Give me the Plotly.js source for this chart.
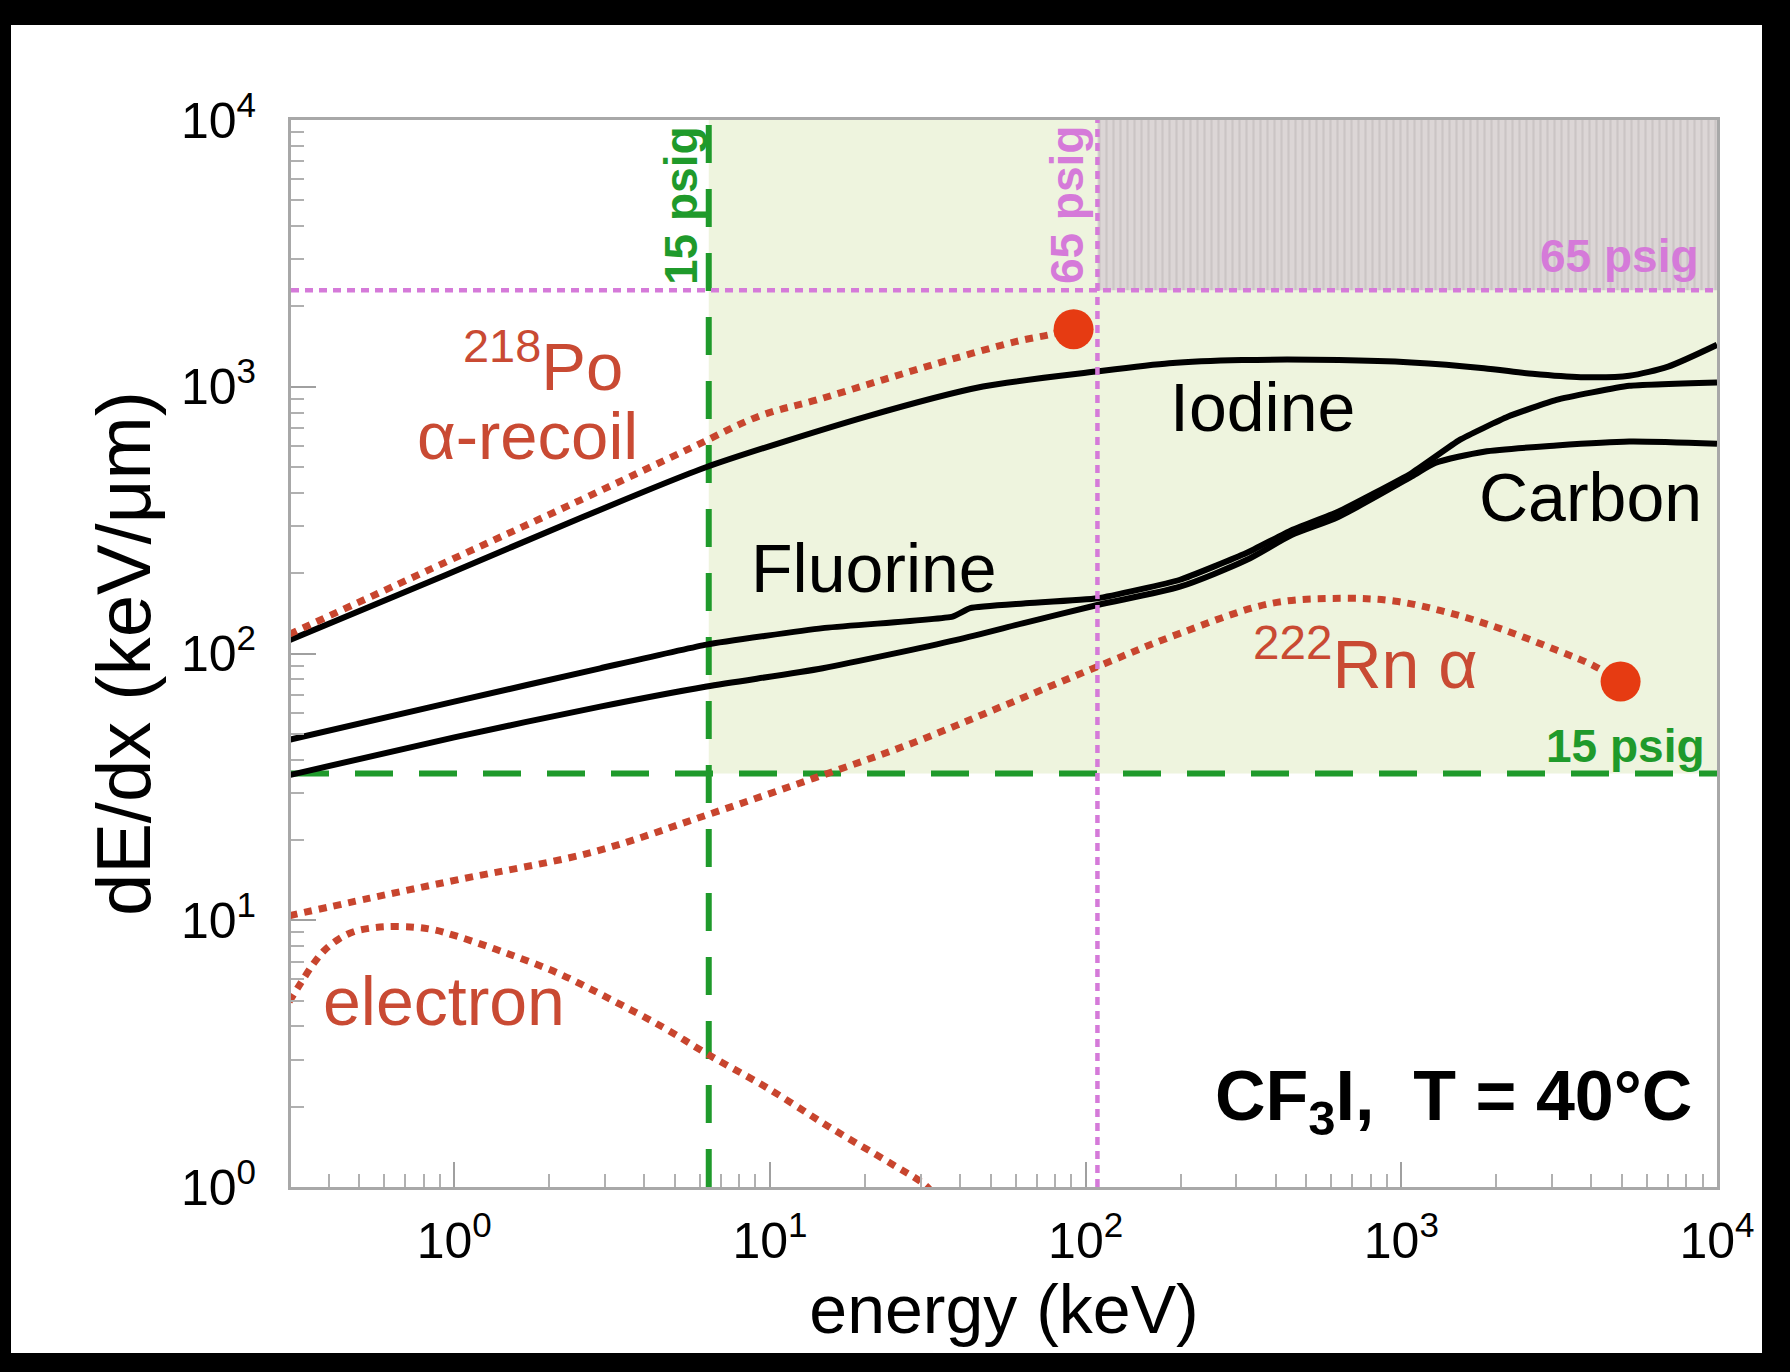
<!DOCTYPE html>
<html><head><meta charset="utf-8">
<script src="https://cdn.plot.ly/plotly-3.0.1.min.js"></script>
<style>
html,body{margin:0;padding:0;background:#000;width:1790px;height:1372px;overflow:hidden}
#chart{position:absolute;left:11px;top:25px;width:1751px;height:1328px;background:#fff}
</style></head><body><div id="chart"></div>
<script>
// ---- data (energy in keV, dE/dx in keV/um) ----
const iodineE    = [0.3, 0.94, 2.51, 6.3, 20.2, 47.3, 108, 184, 313, 634, 1076, 1828, 2602, 3703, 5273, 7000, 10000];
const iodineDEDX = [112, 197, 322, 500, 773, 1002, 1140, 1225, 1259, 1259, 1233, 1174, 1118, 1086, 1099, 1190, 1436];

const fluorineE    = [0.3, 1.0, 2.9, 6.3, 14.7, 37.9, 43.1, 63.6, 109, 199, 323, 449, 631, 1076, 1531, 2180, 3100, 5273, 10000];
const fluorineDEDX = [47.5, 66, 88, 108, 124.5, 137.5, 148, 154, 161, 189, 238, 290, 340, 474, 632, 773, 893, 1008, 1038];

const carbonE    = [0.3, 1.0, 2.9, 6.3, 14.7, 39, 63.6, 109, 199, 323, 449, 631, 1076, 1280, 1828, 3100, 5273, 10000];
const carbonDEDX = [35, 48.5, 63.2, 75.2, 88.1, 112.5, 130, 152, 178, 224, 278, 325, 460, 518, 571, 602, 623, 611];

const poE    = [0.3, 0.94, 2.51, 5.66, 9.3, 14.1, 22.8, 37.1, 60.4, 76.9, 91.6];
const poDEDX = [118, 220, 376, 592, 778, 893, 1062, 1262, 1479, 1567, 1644];

const rnE    = [0.3, 0.54, 1.03, 2.74, 6.31, 13.8, 28.2, 54.1, 109, 199, 386, 650, 960, 1419, 2097, 3100, 4020, 4950];
const rnDEDX = [10.4, 12.1, 14.2, 18.0, 24.8, 34.1, 46.1, 63.2, 89.3, 119, 154, 161, 157, 142, 123, 103, 90.6, 78.5];

const electronE    = [0.30, 0.326, 0.359, 0.389, 0.43, 0.48, 0.54, 0.614, 0.747, 0.865, 1.03, 1.43, 2.12, 3.13, 4.62, 6.39, 9.76, 15.4, 24.3, 30.9, 34];
const electronDEDX = [4.95, 5.8, 6.9, 7.74, 8.49, 9.06, 9.33, 9.46, 9.42, 9.2, 8.68, 7.6, 6.35, 5.05, 3.95, 3.13, 2.36, 1.68, 1.22, 1.02, 0.9];

// thresholds
const thr15E = 6.4, thr65E = 109;         // keV
const thr15DEDX = 35.5, thr65DEDX = 2300; // keV/um

// axis extents and tick labels
const eMin = 0.304, eMax = 10000, dMin = 1, dMax = 10000;
const tickVals = [1, 10, 100, 1000, 10000];
const tickText = ['10<sup>0</sup>', '10<sup>1</sup>', '10<sup>2</sup>', '10<sup>3</sup>', '10<sup>4</sup>'];

// ---- styles ----
const FONT = 'Liberation Sans, Arial, Helvetica, sans-serif';
const RED = '#c8452e', RED_TXT = '#c94a33', DOT_RED = '#e63b12';
const GREEN = '#1f9a2b', MAGENTA = '#d57ad9';
const last = a => a[a.length - 1];
const redLine = {color: RED, width: 7, dash: '8px,7px', shape: 'spline', smoothing: 1};
const blackLine = {color: '#000', width: 6, shape: 'spline', smoothing: 0.7};

const traces = [
  {x: [thr15E, eMax, eMax, thr15E, thr15E], y: [thr15DEDX, thr15DEDX, dMax, dMax, thr15DEDX],
   mode: 'lines', fill: 'toself', fillcolor: '#eef4de', line: {width: 0}},
  {x: [thr65E, eMax, eMax, thr65E, thr65E], y: [thr65DEDX, thr65DEDX, dMax, dMax, thr65DEDX],
   mode: 'lines', fill: 'toself', fillcolor: '#dbd5d5', line: {width: 0},
   fillpattern: {shape: '|', bgcolor: '#dcd6d6', fgcolor: '#cbc5c5', size: 7, solidity: 0.3}},
  {x: [thr15E, thr15E], y: [dMin, dMax], mode: 'lines', line: {color: GREEN, width: 6, dash: '38px,26px'}},
  {x: [eMin, eMax], y: [thr15DEDX, thr15DEDX], mode: 'lines', line: {color: GREEN, width: 6, dash: '38px,26px'}},
  {x: iodineE, y: iodineDEDX, mode: 'lines', line: blackLine},
  {x: fluorineE, y: fluorineDEDX, mode: 'lines', line: Object.assign({}, blackLine, {smoothing: 0.4})},
  {x: carbonE, y: carbonDEDX, mode: 'lines', line: blackLine},
  {x: poE, y: poDEDX, mode: 'lines', line: redLine},
  {x: rnE, y: rnDEDX, mode: 'lines', line: redLine},
  {x: electronE, y: electronDEDX, mode: 'lines', line: redLine},
  {x: [last(poE), last(rnE)], y: [last(poDEDX), last(rnDEDX)], mode: 'markers',
   marker: {color: DOT_RED, size: 40, line: {width: 0}}},
  {x: [thr65E, thr65E], y: [dMin, dMax], mode: 'lines', line: {color: MAGENTA, width: 4.5, dash: '8px,6px'}},
  {x: [eMin, eMax], y: [thr65DEDX, thr65DEDX], mode: 'lines', line: {color: MAGENTA, width: 4.5, dash: '8px,6px'}}
];

function ann(text, x, y, opts) {
  return Object.assign({text: text, x: x, y: y, xref: 'x', yref: 'y', showarrow: false,
    xanchor: 'center', yanchor: 'middle', font: {family: FONT, size: 68, color: '#000'}}, opts || {});
}

const annotations = [
  ann('Iodine', 2.559, 2.924),
  ann('Carbon', 3.598, 2.587),
  ann('Fluorine', 1.331, 2.3205),
  ann('<sup>218</sup>Po', 0.281, 3.093, {font: {family: FONT, size: 67, color: RED_TXT}}),
  ann('α-recoil', 0.2305, 2.817, {font: {family: FONT, size: 67, color: RED_TXT}}),
  ann('<sup>222</sup>Rn α', 2.888, 1.979, {font: {family: FONT, size: 68, color: RED_TXT}}),
  ann('electron', -0.034, 0.697, {font: {family: FONT, size: 68, color: RED_TXT}}),
  ann('<b>CF<sub>3</sub>I,  T = 40°C</b>', 3.926, 0.322, {xanchor: 'right', font: {family: FONT, size: 70, color: '#000'}}),
  ann('<b>15 psig</b>', 0.718, 3.681, {textangle: -90, font: {family: FONT, size: 46, color: GREEN}}),
  ann('<b>65 psig</b>', 1.941, 3.681, {textangle: -90, font: {family: FONT, size: 46, color: MAGENTA}}),
  ann('<b>65 psig</b>', 3.949, 3.490, {xanchor: 'right', font: {family: FONT, size: 46, color: MAGENTA}}),
  ann('<b>15 psig</b>', 3.968, 1.653, {xanchor: 'right', font: {family: FONT, size: 46, color: GREEN}})
];

const axisCommon = {
  type: 'log', showgrid: false, zeroline: false,
  showline: true, linecolor: '#a8a8a8', linewidth: 3, mirror: true,
  tickmode: 'array', tickvals: tickVals, ticktext: tickText,
  ticks: 'inside', ticklen: 25, tickwidth: 2, tickcolor: '#a0a0a0',
  tickfont: {family: FONT, size: 50, color: '#000'},
  minor: {dtick: 'D1', ticks: 'inside', ticklen: 13, tickwidth: 2, tickcolor: '#b0b0b0', showgrid: false}
};

const layout = {
  width: 1751, height: 1328,
  margin: {l: 280, r: 45, t: 95, b: 166, pad: 0},
  paper_bgcolor: '#fff', plot_bgcolor: '#fff',
  showlegend: false,
  xaxis: Object.assign({}, axisCommon, {
    range: [Math.log10(eMin), Math.log10(eMax)],
    ticklabelstandoff: 8,
    title: {text: 'energy (keV)', font: {family: FONT, size: 68, color: '#000'}, standoff: 18}
  }),
  yaxis: Object.assign({}, axisCommon, {
    range: [Math.log10(dMin), Math.log10(dMax)],
    ticklabelstandoff: 22,
    title: {text: 'dE/dx (keV/μm)', font: {family: FONT, size: 76, color: '#000'}, standoff: 6}
  }),
  annotations: annotations
};

Plotly.newPlot('chart', traces, layout, {staticPlot: true, displayModeBar: false});
</script></body></html>
